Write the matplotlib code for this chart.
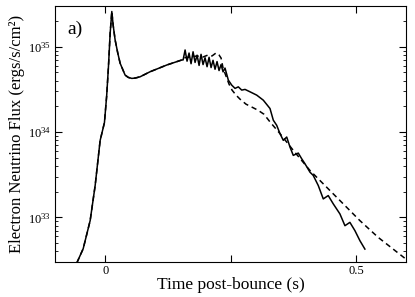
import numpy as np
import matplotlib
matplotlib.use('Agg')
import matplotlib.pyplot as plt
from matplotlib.ticker import LogLocator, NullFormatter, LogFormatterMathtext

plt.rcParams['font.family'] = ['Liberation Serif', 'DejaVu Serif']
plt.rcParams['mathtext.fontset'] = 'stix'

# common part (collapse, bounce peak, early accretion) - time (s), log10 flux
t_early = [-0.0564, -0.0438, -0.0299, -0.0199, -0.0100, -0.0014, 0.0030,
           0.0066, 0.0100, 0.0133, 0.0160, 0.0199, 0.0250, 0.0299, 0.0398, 0.0460,
           0.0532, 0.0600, 0.0697, 0.0896, 0.1229, 0.1528]
L_early = [32.467, 32.632, 32.961, 33.373, 33.900, 34.110, 34.420,
           34.765, 35.158, 35.412, 35.250, 35.079, 34.930, 34.805, 34.667, 34.640,
           34.628, 34.632, 34.647, 34.706, 34.785, 34.844]

# solid curve after t ~ 0.15 s
t_solid = [0.1554, 0.1594, 0.1633, 0.1673, 0.1713, 0.1753, 0.1793, 0.1833, 0.1873,
           0.1912, 0.1952, 0.1992, 0.2032, 0.2072, 0.2112, 0.2151, 0.2191, 0.2231,
           0.2271, 0.2311, 0.2351, 0.2390, 0.2456, 0.2524, 0.2590, 0.2655, 0.2723,
           0.2789, 0.2888, 0.3022, 0.3153, 0.3287, 0.3353, 0.3420, 0.3486, 0.3552,
           0.3620, 0.3685, 0.3751, 0.3851, 0.3918, 0.3984, 0.4084, 0.4149, 0.4249,
           0.4349, 0.4448, 0.4548, 0.4681, 0.4781, 0.4880, 0.4980, 0.5080, 0.5179]
L_solid = [34.844, 34.961, 34.830, 34.925, 34.800, 34.940, 34.815, 34.900, 34.780,
           34.910, 34.790, 34.870, 34.765, 34.875, 34.755, 34.840, 34.735, 34.825,
           34.720, 34.790, 34.705, 34.749, 34.608, 34.549, 34.511, 34.529, 34.491,
           34.499, 34.471, 34.432, 34.373, 34.275, 34.138, 34.079, 33.981, 33.902,
           33.941, 33.824, 33.726, 33.753, 33.687, 33.628, 33.529, 33.491, 33.373,
           33.216, 33.255, 33.158, 33.040, 32.902, 32.941, 32.844, 32.726, 32.628]

# dashed curve after t ~ 0.15 s
t_dash = [0.1554, 0.1693, 0.1833, 0.1952, 0.2052, 0.2131, 0.2211, 0.2271, 0.2311,
          0.2351, 0.2410, 0.2470, 0.2530, 0.2610, 0.2689, 0.2809, 0.2928, 0.3048,
          0.3167, 0.3287, 0.3486, 0.3751, 0.4084, 0.4416, 0.4747, 0.5080, 0.5444, 0.5996]
L_dash = [34.867, 34.879, 34.891, 34.879, 34.902, 34.891, 34.926, 34.902, 34.867,
          34.749, 34.655, 34.561, 34.491, 34.432, 34.385, 34.326, 34.291, 34.255,
          34.208, 34.118, 33.981, 33.785, 33.549, 33.353, 33.158, 32.961, 32.765, 32.511]

fig = plt.figure(figsize=(4.15, 2.97), dpi=100)
ax = fig.add_axes([0.1325, 0.118, 0.846, 0.862])

ts = np.array(t_early + t_solid)
fs = 10.0 ** np.array(L_early + L_solid)
td = np.array(t_early + t_dash)
fd = 10.0 ** np.array(L_early + L_dash)

ax.plot(ts, fs, color='black', lw=1.1)
ax.plot(td, fd, color='black', lw=1.1, dashes=(3.5, 2.5))

ax.set_yscale('log')
ax.set_xlim(-0.1, 0.6)
ax.set_ylim(3e32, 3e35)

ax.set_xticks([0, 0.25, 0.5])
ax.set_xticklabels(['0', '', '0.5'])
ax.yaxis.set_major_locator(LogLocator(base=10))
ax.yaxis.set_major_formatter(LogFormatterMathtext())
ax.yaxis.set_minor_locator(LogLocator(base=10, subs=np.arange(2, 10)))
ax.yaxis.set_minor_formatter(NullFormatter())

ax.tick_params(which='both', direction='in', top=True, right=True, labelsize=9)
ax.tick_params(which='major', length=5, width=0.8)
ax.tick_params(which='minor', length=2.5, width=0.6)
ax.tick_params(axis='x', pad=2)
ax.tick_params(axis='y', pad=3)

ax.set_xlabel('Time post-bounce (s)', fontsize=12.5, labelpad=0)
ax.set_ylabel('Electron Neutrino Flux (ergs/s/cm\u00b2)', fontsize=12, labelpad=2)
ax.text(0.035, 0.91, 'a)', transform=ax.transAxes, fontsize=14, va='center')

fig.savefig('out.png', dpi=100)
